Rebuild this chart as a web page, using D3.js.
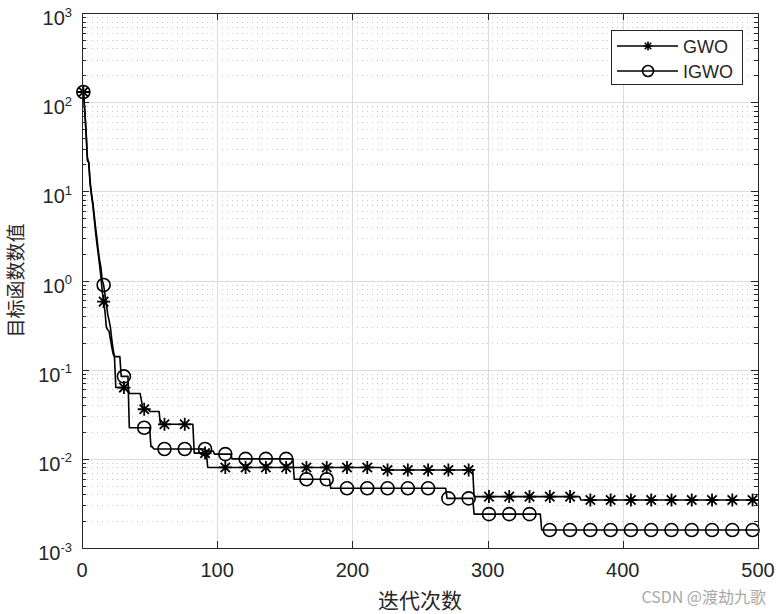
<!DOCTYPE html>
<html>
<head>
<meta charset="utf-8">
<script src="https://d3js.org/d3.v7.min.js"></script>
<style>
  body { margin: 0; background: #fff; }
  text { font-family: "Liberation Sans", Arial, Helvetica, sans-serif; fill: #262626; }
  .cjk { font-family: "Noto Sans CJK SC", sans-serif; }
</style>
</head>
<body>
<div id="chart"></div>
<script>
// iteration where the best value changes, and the value held from there on
const gwoIter = [1, 2, 3, 4, 5, 6, 7, 8, 9, 10, 11, 12, 13, 14, 15, 16, 17, 18, 19, 20, 21, 22, 23, 24, 25, 35, 44, 45, 50, 58, 83, 93, 222, 290, 369];
const gwoVal = [130, 80, 45, 22, 21, 12, 9, 7, 5, 3.5, 2.6, 2, 1.5, 1.1, 0.75, 0.58, 0.45, 0.3, 0.28, 0.27, 0.22, 0.18, 0.15, 0.14, 0.063, 0.054, 0.045, 0.036, 0.034, 0.0244, 0.0116, 0.008, 0.0075, 0.00377, 0.00345];

const igwoIter = [1, 2, 3, 4, 5, 6, 7, 8, 9, 10, 11, 12, 13, 14, 15, 16, 17, 18, 19, 20, 21, 22, 23, 24, 29, 35, 51, 53, 92, 98, 111, 157, 184, 270, 290, 340];
const igwoVal = [130, 85, 48, 24, 21, 13, 9.5, 7.5, 5.5, 4, 3, 2.2, 1.7, 1.4, 1.0, 0.89, 0.7, 0.55, 0.42, 0.36, 0.3, 0.22, 0.17, 0.14, 0.084, 0.0223, 0.0137, 0.0129, 0.0122, 0.0113, 0.01, 0.0059, 0.00467, 0.0036, 0.0024, 0.00159];

const maxIter = 500;
const markerStep = 15;
const xTicks = [0, 100, 200, 300, 400, 500];
const yExps = [-3, -2, -1, 0, 1, 2, 3];
const seriesNames = ["GWO", "IGWO"];

const W = 778, H = 614;
const margin = { top: 13, right: 20, bottom: 66, left: 82 };

const svg = d3.select("#chart").append("svg")
  .attr("width", W).attr("height", H);

const x = d3.scaleLinear().domain([0, maxIter]).range([margin.left, W - margin.right]);
const y = d3.scaleLog().domain([1e-3, 1e3]).range([H - margin.bottom, margin.top]);

// best-so-far curve: hold each value until the next change
function expand(iters, vals) {
  const out = [];
  let k = 0;
  for (let i = 1; i <= maxIter; i++) {
    while (k + 1 < iters.length && iters[k + 1] <= i) k++;
    out.push({ i: i, v: vals[k] });
  }
  return out;
}
const gwo = expand(gwoIter, gwoVal);
const igwo = expand(igwoIter, igwoVal);

const x0 = x.range()[0], x1 = x.range()[1];
const y0 = y.range()[0], y1 = y.range()[1];
const px = v => Math.round(v) + 0.5;

// grid
const minor = [];
for (let e = -3; e < 3; e++) for (let m = 2; m <= 9; m++) minor.push(m * Math.pow(10, e));

svg.append("g").selectAll("line").data(minor).enter().append("line")
  .attr("x1", x0).attr("x2", x1)
  .attr("y1", d => px(y(d))).attr("y2", d => px(y(d)))
  .attr("stroke", "#c4c4c4").attr("stroke-width", 1)
  .attr("shape-rendering", "crispEdges")
  .attr("stroke-dasharray", "1,4");

svg.append("g").selectAll("line").data(yExps.slice(1, -1)).enter().append("line")
  .attr("x1", x0).attr("x2", x1)
  .attr("y1", d => px(y(Math.pow(10, d)))).attr("y2", d => px(y(Math.pow(10, d))))
  .attr("stroke", "#dcdcdc").attr("stroke-width", 1)
  .attr("shape-rendering", "crispEdges");

svg.append("g").selectAll("line").data(xTicks.slice(1, -1)).enter().append("line")
  .attr("x1", d => px(x(d))).attr("x2", d => px(x(d)))
  .attr("y1", y0).attr("y2", y1)
  .attr("stroke", "#dcdcdc").attr("stroke-width", 1)
  .attr("shape-rendering", "crispEdges");

// lines
const line = d3.line().x(d => x(d.i)).y(d => y(d.v));
[gwo, igwo].forEach(s => {
  svg.append("path").attr("d", line(s))
    .attr("fill", "none").attr("stroke", "#000").attr("stroke-width", 1.6)
    .attr("stroke-linejoin", "round");
});

function starPath(r) {
  const q = r * 0.72;
  return `M${-r},0L${r},0M0,${-r}L0,${r}M${-q},${-q}L${q},${q}M${-q},${q}L${q},${-q}`;
}

const gwoMarks = gwo.filter(d => (d.i - 1) % markerStep === 0);
const igwoMarks = igwo.filter(d => (d.i - 1) % markerStep === 0);

svg.append("g").selectAll("circle").data(igwoMarks).enter().append("circle")
  .attr("cx", d => x(d.i)).attr("cy", d => y(d.v)).attr("r", 6.5)
  .attr("fill", "none").attr("stroke", "#000").attr("stroke-width", 1.6);

svg.append("g").selectAll("path").data(gwoMarks).enter().append("path")
  .attr("transform", d => `translate(${x(d.i)},${y(d.v)})`)
  .attr("d", starPath(6.5))
  .attr("fill", "none").attr("stroke", "#000").attr("stroke-width", 1.8);

// axes box and ticks
const axisColor = "#262626";
svg.append("rect")
  .attr("x", px(x0)).attr("y", px(y1)).attr("width", Math.round(x1 - x0)).attr("height", Math.round(y0 - y1))
  .attr("fill", "none").attr("stroke", axisColor).attr("stroke-width", 1)
  .attr("shape-rendering", "crispEdges");

const tk = svg.append("g").attr("stroke", axisColor).attr("stroke-width", 1)
  .attr("shape-rendering", "crispEdges");
xTicks.forEach(t => {
  tk.append("line").attr("x1", px(x(t))).attr("x2", px(x(t))).attr("y1", y0).attr("y2", y0 - 7);
  tk.append("line").attr("x1", px(x(t))).attr("x2", px(x(t))).attr("y1", y1).attr("y2", y1 + 7);
});
yExps.forEach(e => {
  const yy = px(y(Math.pow(10, e)));
  tk.append("line").attr("x1", x0).attr("x2", x0 + 7).attr("y1", yy).attr("y2", yy);
  tk.append("line").attr("x1", x1).attr("x2", x1 - 7).attr("y1", yy).attr("y2", yy);
});
minor.forEach(v => {
  const yy = px(y(v));
  tk.append("line").attr("x1", x0).attr("x2", x0 + 4).attr("y1", yy).attr("y2", yy);
  tk.append("line").attr("x1", x1).attr("x2", x1 - 4).attr("y1", yy).attr("y2", yy);
});

// tick labels
svg.append("g").selectAll("text").data(xTicks).enter().append("text")
  .attr("x", d => x(d)).attr("y", y0 + 29)
  .attr("text-anchor", "middle").attr("font-size", 20)
  .text(d => d);

const yl = svg.append("g").selectAll("text").data(yExps).enter().append("text")
  .attr("x", 72).attr("y", d => y(Math.pow(10, d)) + 12)
  .attr("text-anchor", "end").attr("font-size", 20);
yl.append("tspan").text("10");
yl.append("tspan").attr("dy", -8.5).attr("font-size", 13).text(d => d);

// axis titles
svg.append("text").attr("class", "cjk")
  .attr("x", (x0 + x1) / 2).attr("y", 608)
  .attr("text-anchor", "middle").attr("font-size", 21)
  .text("迭代次数");

svg.append("text").attr("class", "cjk")
  .attr("transform", `translate(23,${(y0 + y1) / 2}) rotate(-90)`)
  .attr("text-anchor", "middle").attr("font-size", 19)
  .text("目标函数数值");

// legend
const lg = svg.append("g");
lg.append("rect").attr("x", 611.5).attr("y", 30.5).attr("width", 131).attr("height", 54)
  .attr("fill", "#fff").attr("stroke", axisColor).attr("stroke-width", 1);
seriesNames.forEach((name, k) => {
  const ly = 46 + k * 25;
  lg.append("line").attr("x1", 617).attr("x2", 678).attr("y1", ly).attr("y2", ly)
    .attr("stroke", "#000").attr("stroke-width", 1.6);
  if (k === 0) {
    lg.append("path").attr("transform", `translate(648,${ly})`).attr("d", starPath(4.5))
      .attr("fill", "none").attr("stroke", "#000").attr("stroke-width", 1.6);
  } else {
    lg.append("circle").attr("cx", 648).attr("cy", ly).attr("r", 5.5)
      .attr("fill", "none").attr("stroke", "#000").attr("stroke-width", 1.6);
  }
  lg.append("text").attr("x", 683).attr("y", ly + 7).attr("font-size", 18).text(name);
});

// watermark
svg.append("text").attr("class", "cjk")
  .attr("x", 766).attr("y", 603).attr("text-anchor", "end")
  .attr("font-size", 16).style("fill", "#a8a8a8")
  .text("CSDN @渡劫九歌");
</script>
</body>
</html>
